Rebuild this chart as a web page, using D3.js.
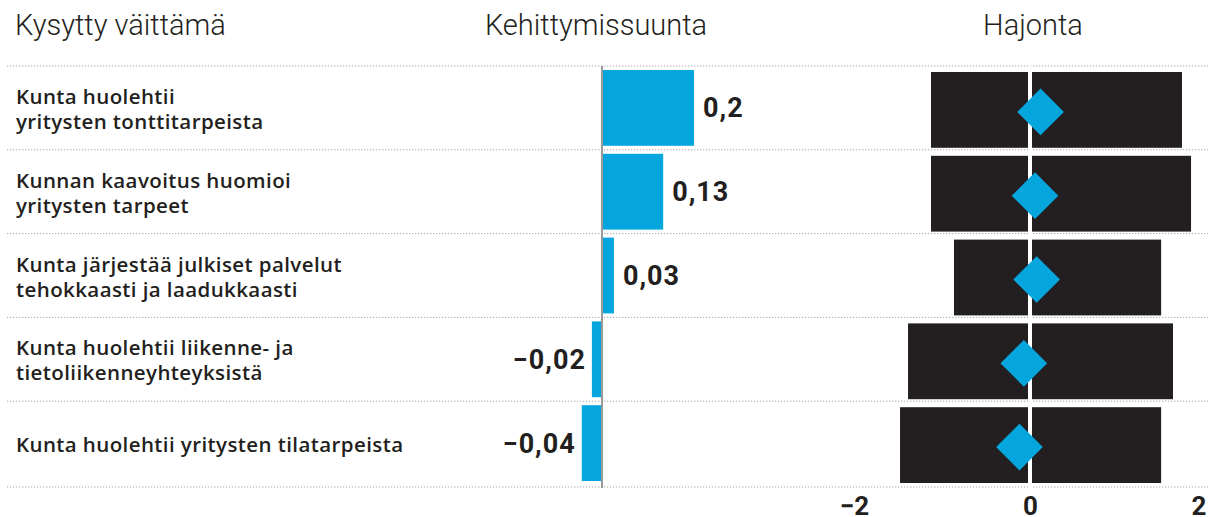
<!DOCTYPE html>
<html>
<head>
<meta charset="utf-8">
<script src="https://cdn.jsdelivr.net/npm/d3@7"></script>
<style>
  body { margin: 0; background: #fff; }
  svg { display: block; font-family: Roboto, "Noto Sans", sans-serif; }
</style>
</head>
<body>
<div id="chart"></div>
<script>
// kysytyt väittämät, rivit ylhäältä alas
var statements = [
    ["Kunta huolehtii", "yritysten tonttitarpeista"],
    ["Kunnan kaavoitus huomioi", "yritysten tarpeet"],
    ["Kunta järjestää julkiset palvelut", "tehokkaasti ja laadukkaasti"],
    ["Kunta huolehtii liikenne- ja", "tietoliikenneyhteyksistä"],
    ["Kunta huolehtii yritysten tilatarpeista"]
];
// kehittymissuunta
var trend_values = [0.2, 0.133, 0.026, -0.022, -0.044];
// hajonta: alaraja, yläraja, keskiarvo
var spread_low = [-1.125, -1.125, -0.864, -1.386, -1.477];
var spread_high = [1.727, 1.83, 1.49, 1.625, 1.49];
var spread_mean = [0.12, 0.057, 0.076, -0.07, -0.12];
var spread_ticks = [-2, 0, 2];
var headers = ["Kysytty väittämä", "Kehittymissuunta", "Hajonta"];

var width = 1208;
var height = 517;
var blue = "#05a6de";
var ink = "#231f20";

var fi = d3.formatLocale({decimal: ",", thousands: " ", grouping: [3], currency: ["", " €"], minus: "\u2212"});
var fmt_value = fi.format(".2~f");
var fmt_tick = fi.format("d");

var rows = d3.range(statements.length);

var y = d3.scaleBand()
    .domain(rows)
    .range([66, 485]);

var x_trend = d3.scaleLinear()
    .domain([0, 0.2])
    .range([602, 694]);

var x_spread = d3.scaleLinear()
    .domain([-2, 2])
    .range([854, 1206]);

var svg = d3.select("#chart")
    .append("svg")
    .attr("width", width)
    .attr("height", height);

////////////////////////////////////////////////////////////////////////////////
// otsikot
svg.selectAll("text.header")
    .data(headers)
    .enter()
    .append("text")
    .attr("class", "header")
    .attr("x", function(d, i) { return [15, 596, 1033][i]; })
    .attr("y", 35)
    .attr("text-anchor", function(d, i) { return i == 0 ? "start" : "middle"; })
    .attr("font-size", 29)
    .attr("font-weight", 300)
    .attr("fill", ink)
    .text(function(d) { return d; });

// pisteviivat rivien välissä
var line_ys = rows.map(function(d) { return y(d); }).concat([y.range()[1] + 2]);
svg.selectAll("line.sep")
    .data(line_ys)
    .enter()
    .append("line")
    .attr("class", "sep")
    .attr("x1", 7)
    .attr("x2", width)
    .attr("y1", function(d) { return d; })
    .attr("y2", function(d) { return d; })
    .attr("stroke", "#a8a8a8")
    .attr("stroke-width", 1)
    .attr("stroke-dasharray", "1.3,1.7");

// väittämien tekstit
var labels = svg.selectAll("text.stmt")
    .data(statements)
    .enter()
    .append("text")
    .attr("class", "stmt")
    .attr("x", 16)
    .attr("y", function(d, i) {
        var c = y(i) + y.bandwidth() / 2;
        return d.length == 1 ? c + 9 : c - 4;
    })
    .attr("font-family", "'Open Sans', sans-serif")
    .attr("font-size", 20.5)
    .attr("font-weight", 600)
    .attr("letter-spacing", 0.4)
    .attr("fill", ink);
labels.selectAll("tspan")
    .data(function(d) { return d; })
    .enter()
    .append("tspan")
    .attr("x", 16)
    .attr("dy", function(d, i) { return i == 0 ? 0 : 25; })
    .text(function(d) { return d; });

////////////////////////////////////////////////////////////////////////////////
// kehittymissuunta: palkit
svg.selectAll("rect.trend")
    .data(trend_values)
    .enter()
    .append("rect")
    .attr("class", "trend")
    .attr("x", function(d) { return Math.min(x_trend(0), x_trend(d)); })
    .attr("width", function(d) { return Math.abs(x_trend(d) - x_trend(0)); })
    .attr("y", function(d, i) { return y(i) + 4; })
    .attr("height", y.bandwidth() - 8)
    .attr("fill", blue);

svg.append("line")
    .attr("x1", x_trend(0))
    .attr("x2", x_trend(0))
    .attr("y1", 66)
    .attr("y2", 488)
    .attr("stroke", "#9a9a9a")
    .attr("stroke-width", 2);

svg.selectAll("text.trend-label")
    .data(trend_values)
    .enter()
    .append("text")
    .attr("class", "trend-label")
    .attr("x", function(d) { return d >= 0 ? x_trend(d) + 9 : x_trend(d) - 6; })
    .attr("y", function(d, i) { return y(i) + y.bandwidth() / 2 + 9.5; })
    .attr("text-anchor", function(d) { return d >= 0 ? "start" : "end"; })
    .attr("font-size", 27)
    .attr("font-weight", 700)
    .attr("letter-spacing", 1)
    .attr("fill", ink)
    .text(function(d) { return fmt_value(d); });

////////////////////////////////////////////////////////////////////////////////
// hajonta
svg.selectAll("rect.spread")
    .data(rows)
    .enter()
    .append("rect")
    .attr("class", "spread")
    .attr("x", function(i) { return x_spread(spread_low[i]); })
    .attr("width", function(i) { return x_spread(spread_high[i]) - x_spread(spread_low[i]); })
    .attr("y", function(i) { return y(i) + 6; })
    .attr("height", y.bandwidth() - 8)
    .attr("fill", ink);

svg.append("line")
    .attr("x1", x_spread(0))
    .attr("x2", x_spread(0))
    .attr("y1", 66)
    .attr("y2", 488)
    .attr("stroke", "#fff")
    .attr("stroke-width", 4);

svg.selectAll("path.mean")
    .data(rows)
    .enter()
    .append("path")
    .attr("class", "mean")
    .attr("d", d3.symbol().type(d3.symbolSquare).size(33 * 33))
    .attr("transform", function(i) {
        return "translate(" + x_spread(spread_mean[i]) + "," + (y(i) + y.bandwidth() / 2 + 4) + ") rotate(45)";
    })
    .attr("fill", blue);

var axis_g = svg.append("g")
    .attr("transform", "translate(0," + 488 + ")")
    .call(d3.axisBottom(x_spread).tickValues(spread_ticks).tickFormat(fmt_tick).tickSize(0));
axis_g.select(".domain").remove();
axis_g.selectAll("text")
    .attr("y", 27)
    .attr("dy", 0)
    .attr("font-family", "Roboto, sans-serif")
    .attr("font-size", 26)
    .attr("font-weight", 700)
    .attr("fill", ink)
    .attr("text-anchor", function(d, i) { return i == spread_ticks.length - 1 ? "end" : "middle"; });
</script>
</body>
</html>
